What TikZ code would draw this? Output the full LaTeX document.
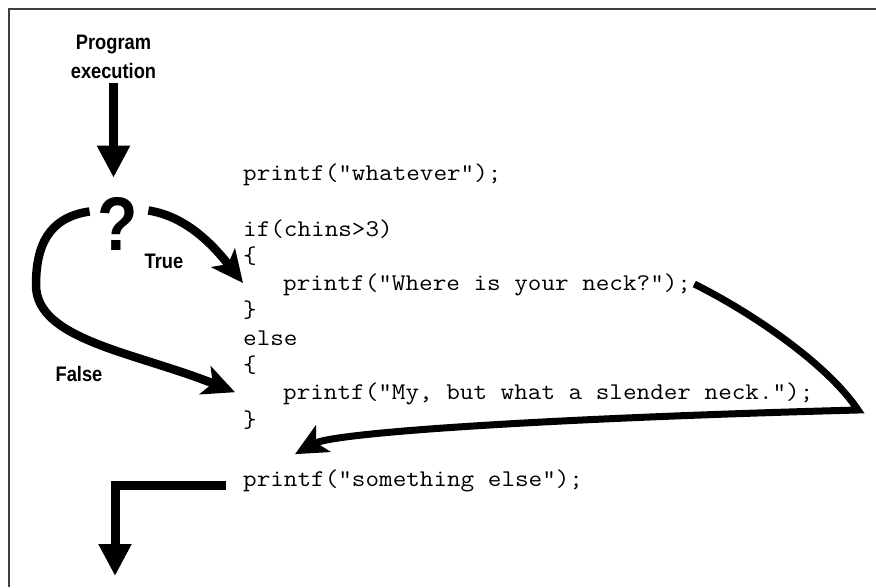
\documentclass[tikz,border=0pt]{standalone}
\usepackage{fontspec}
\setmonofont[FakeStretch=1.1]{Latin Modern Mono}
\newfontfamily\labelfont[FakeStretch=0.87]{Liberation Sans}
\usetikzlibrary{arrows.meta}

\tikzset{
	code/.style={anchor=base west, inner sep=0pt, font=\ttfamily\fontsize{24}{28}\selectfont},
	tag/.style={anchor=base, inner sep=0pt, font=\labelfont\bfseries\fontsize{21}{29}\selectfont},
	flow/.style={line width=9pt, -{Triangle[length=32pt,width=31pt]}},
	curvearrow/.style={line width=8.5pt, -{Stealth[length=32pt,width=30pt,inset=8pt]}},
}

\begin{document}
\begin{tikzpicture}[x=1pt,y=-1pt]
		\useasboundingbox (0,0) rectangle (876,587);
		\draw[line width=2pt, black!75] (876,9) -- (9,9) -- (9,587);
		% the listing
		\node[code] (wtv) at (243,180) {printf("whatever");};
		\node[code] (iff) at (243,236) {if(chins>3)};
		\node[code] (ob1) at (243,263.3) {\{};
		\node[code] (neck1) at (283,290.6) {printf("Where is your neck?");};
		\node[code] (cb1) at (243,317.9) {\}};
		\node[code] (els) at (243,345.2) {else};
		\node[code] (ob2) at (243,372.5) {\{};
		\node[code] (neck2) at (283,399.8) {printf("My, but what a slender neck.");};
		\node[code] (cb2) at (243,427.1) {\}};
		\node[code] (sth) at (243,486) {printf("something else");};
		% labels
		\node[tag, anchor=south, align=center] (prog) at (113.5,79) {Program\\execution};
		\node[tag, font=\labelfont\bfseries\fontsize{76}{76}\selectfont] (qmark) at (118,250) {?};
		\node[tag] (true) at (164,268) {True};
		\node[tag] (false) at (79,381) {False};
		% arrows
		\coordinate (fbend) at (36,285);
		\coordinate (turn) at (858,410);
		\coordinate (exit) at (115,576);
		\draw[flow] ([yshift=-4pt]prog.south) -- ([yshift=19pt]prog.south |- qmark.north);
		\draw[curvearrow] ([shift={(10pt,13pt)}]qmark.east) .. controls +(38,6) and +(-30,-38) .. ([shift={(-40pt,2pt)}]neck1.west);
		\draw[curvearrow] ([shift={(-8pt,12pt)}]qmark.west) .. controls +(-42,6) and +(0,-38) .. (fbend)
			.. controls +(0,55) and +(-100,-40) .. ([shift={(-48pt,2pt)}]neck2.west);
		\draw[curvearrow, line width=7pt] ([shift={(3pt,1pt)}]neck1.east) .. controls +(60,30) and +(-30,-45) .. (turn)
			.. controls +(-300,8) and +(40,-22) .. ([shift={(52pt,15pt)}]sth.north west);
		\draw[flow] ([shift={(-17pt,-5pt)}]sth.west) -| (exit);
\end{tikzpicture}
\end{document}
